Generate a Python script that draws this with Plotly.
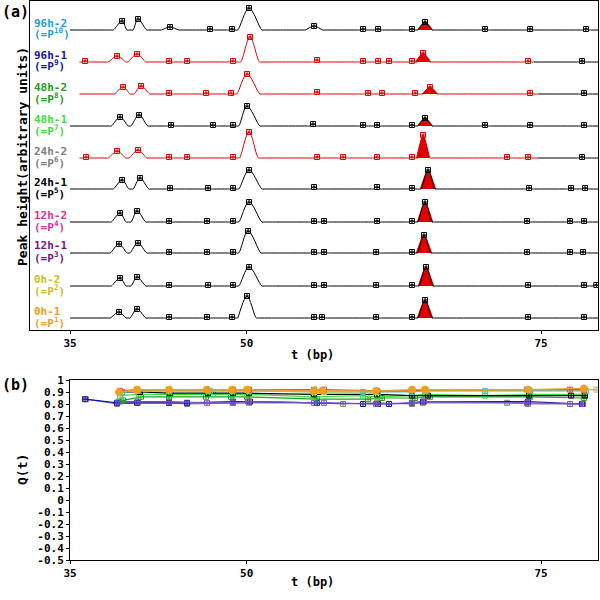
import plotly.graph_objects as go

# ---------------- data ----------------
labels = ["96h-2", "96h-1", "48h-2", "48h-1", "24h-2", "24h-1", "12h-2", "12h-1", "0h-2", "0h-1"]
p_index = ["10", "9", "8", "7", "6", "5", "4", "3", "2", "1"]

# peak positions (bp) and peak heights (arbitrary units) per trace, top to bottom
pos_96h2 = [39.42, 40.77, 43.49, 46.89, 48.76, 50.20, 55.72, 59.88, 61.16, 64.04, 65.15, 70.24, 74.07, 78.82]
h_96h2 = [9, 11, 3, 1, 1, 22, 4, 1, 1, 1, 8, 1, 1, 1]
pos_96h1 = [36.27, 38.99, 40.69, 43.41, 44.94, 48.84, 50.29, 55.98, 59.88, 61.16, 62.09, 64.04, 64.98, 73.90, 78.48]
h_96h1 = [1, 6, 8, 1, 1, 1, 25, 2, 1, 1, 1, 1, 9, 1, 1]
pos_48h2 = [39.50, 41.03, 43.41, 46.55, 48.67, 50.03, 55.98, 60.31, 61.50, 64.30, 65.57, 74.07, 78.65]
h_48h2 = [7, 8, 1, 1, 1, 20, 2, 1, 1, 1, 7, 1, 1]
pos_48h1 = [39.25, 40.86, 43.58, 47.14, 48.84, 50.03, 55.64, 59.88, 61.07, 64.04, 65.15, 70.24, 74.07, 78.65]
h_48h1 = [9, 11, 1, 1, 1, 20, 2, 1, 1, 1, 8, 1, 1, 1]
pos_24h2 = [36.36, 38.99, 40.77, 43.41, 44.94, 48.84, 50.20, 55.98, 58.18, 61.07, 64.04, 64.98, 72.11, 73.90, 78.48]
h_24h2 = [1, 7, 8, 1, 1, 1, 26, 1, 1, 1, 1, 23, 1, 1, 1]
pos_24h1 = [39.42, 40.94, 43.49, 46.72, 48.84, 50.20, 55.72, 61.07, 64.04, 65.40, 73.98, 77.55, 78.74]
h_24h1 = [9, 11, 1, 1, 1, 19, 2, 2, 1, 19, 1, 1, 1]
pos_12h2 = [39.25, 40.69, 43.41, 46.63, 48.84, 50.20, 55.72, 56.57, 61.07, 64.04, 65.15, 73.81, 77.46, 78.65]
h_12h2 = [9, 11, 1, 1, 1, 20, 1, 1, 1, 1, 20, 1, 1, 1]
pos_12h1 = [39.16, 40.77, 43.41, 46.63, 48.84, 50.12, 55.72, 56.57, 60.99, 64.04, 65.06, 73.81, 77.46, 78.57]
h_12h1 = [9, 10, 1, 1, 1, 22, 1, 1, 1, 1, 18, 1, 1, 1]
pos_0h2 = [39.25, 40.69, 43.41, 46.72, 48.84, 50.20, 55.72, 56.57, 60.99, 64.04, 65.23, 73.90, 78.65, 79.70]
h_0h2 = [8, 9, 1, 1, 1, 19, 1, 1, 1, 1, 19, 1, 1, 1]
pos_0h1 = [39.16, 40.69, 43.41, 46.63, 48.76, 50.03, 55.72, 56.40, 60.99, 64.04, 65.15, 73.90, 78.65]
h_0h1 = [6, 9, 1, 1, 1, 22, 1, 1, 1, 1, 18, 1, 1]

peak_positions = [pos_96h2, pos_96h1, pos_48h2, pos_48h1, pos_24h2, pos_24h1, pos_12h2, pos_12h1, pos_0h2, pos_0h1]
peak_heights = [h_96h2, h_96h1, h_48h2, h_48h1, h_24h2, h_24h1, h_12h2, h_12h1, h_0h2, h_0h1]

# Q(t) values at each peak position (panel b)
q_96h2 = [0.90, 0.91, 0.91, 0.91, 0.91, 0.91, 0.90, 0.90, 0.90, 0.90, 0.91, 0.91, 0.91, 0.91]
q_96h1 = [0.84, 0.81, 0.81, 0.81, 0.81, 0.82, 0.82, 0.81, 0.80, 0.80, 0.80, 0.81, 0.82, 0.82, 0.80]
q_48h2 = [0.83, 0.86, 0.86, 0.86, 0.86, 0.86, 0.84, 0.84, 0.85, 0.85, 0.86, 0.86, 0.85]
q_48h1 = [0.87, 0.88, 0.88, 0.88, 0.88, 0.88, 0.86, 0.87, 0.86, 0.87, 0.88, 0.87, 0.88, 0.88]
q_24h2 = [0.84, 0.80, 0.81, 0.81, 0.80, 0.81, 0.81, 0.81, 0.80, 0.81, 0.80, 0.81, 0.81, 0.80, 0.80]
q_24h1 = [0.90, 0.90, 0.89, 0.89, 0.89, 0.89, 0.88, 0.88, 0.87, 0.87, 0.87, 0.87, 0.87]
q_12h2 = [0.91, 0.92, 0.92, 0.92, 0.92, 0.92, 0.92, 0.92, 0.91, 0.91, 0.92, 0.92, 0.92, 0.92]
q_12h1 = [0.82, 0.82, 0.82, 0.81, 0.81, 0.82, 0.81, 0.81, 0.80, 0.81, 0.82, 0.81, 0.80, 0.80]
q_0h2 = [0.90, 0.91, 0.91, 0.91, 0.91, 0.91, 0.90, 0.90, 0.90, 0.91, 0.91, 0.92, 0.92, 0.92]
q_0h1 = [0.90, 0.92, 0.92, 0.92, 0.92, 0.92, 0.91, 0.91, 0.91, 0.92, 0.92, 0.92, 0.93]
q_values = [q_96h2, q_96h1, q_48h2, q_48h1, q_24h2, q_24h1, q_12h2, q_12h1, q_0h2, q_0h1]

x_ticks = [35, 50, 75]
q_ticks = [1, 0.9, 0.8, 0.7, 0.6, 0.5, 0.4, 0.3, 0.2, 0.1, 0, -0.1, -0.2, -0.3, -0.4, -0.5]
q_tick_text = ["1", "0.9", "0.8", "0.7", "0.6", "0.5", "0.4", "0.3", "0.2", "0.1", "0",
               "-0.1", "-0.2", "-0.3", "-0.4", "-0.5"]

# ---------------- styles ----------------
FONT = "DejaVu Sans Mono"
label_colors = ["#1E9FE6", "#1515A8", "#22A022", "#3CE03C", "#808080",
                "#000000", "#E0309A", "#7A1480", "#C8C020", "#F0A020"]
q_colors = ["#22C8E8", "#1515A8", "#22A022", "#3CE03C", "#808080",
            "#000000", "#E04848", "#7A50C0", "#C8C020", "#F0A020"]
trace_red_until = [None, 74.4, 74.8, None, 74.7, None, None, None, None, None]
sharp = [False, True, False, False, True, False, False, False, False, True]
offsets = [300, 268, 236, 204, 172, 141, 108, 77, 44, 12]
RED = "#E00000"

XA = [31.6, 79.84]
XB = [35.0, 79.84]
FOOT = 0.18  # flat foot added beside each peak base (drawing aid)

fig = go.Figure()


def half_width(p, h, is_sharp):
    if h <= 2:
        return 0.3
    if 49.0 < p < 51.5:
        return 0.8 if is_sharp else 1.1
    if 64.5 < p < 66.0:
        return 0.6
    return 0.75


for i in range(len(labels)):
    off = offsets[i]
    pos = peak_positions[i]
    hts = peak_heights[i]
    red_until = trace_red_until[i]
    start = 35.8 if red_until else 35.0
    pts = [(start, 0.0), (XA[1], 0.0)]
    for p, h in zip(pos, hts):
        w = half_width(p, h, sharp[i])
        pts += [(p - w - FOOT, 0.0), (p - w, 0.0), (p, float(h)), (p + w, 0.0), (p + w + FOOT, 0.0)]
    pts.sort(key=lambda a: a[0])
    xs = [a[0] for a in pts]
    ys = [a[1] + off for a in pts]

    if red_until:
        xr = [x for x in xs if x <= red_until] + [red_until]
        yr = [y for x, y in zip(xs, ys) if x <= red_until] + [off]
        xb = [red_until] + [x for x in xs if x > red_until]
        yb = [off] + [y for x, y in zip(xs, ys) if x > red_until]
        segs = [(xr, yr, RED), (xb, yb, "black")]
    else:
        segs = [(xs, ys, "black")]

    # filled peak near 65 bp
    for p, h in zip(pos, hts):
        if 64.5 < p < 66.0:
            w = 0.65 if h < 22 else 0.55
            fig.add_trace(go.Scatter(
                x=[p - w, p, p + w], y=[off, off + h, off],
                mode="lines", fill="toself", fillcolor=RED,
                line=dict(color=RED, width=1, shape="spline", smoothing=0.6),
                xaxis="x", yaxis="y", hoverinfo="skip", showlegend=False))

    for sx, sy, col in segs:
        fig.add_trace(go.Scatter(
            x=sx, y=sy, mode="lines",
            line=dict(color=col, width=1, shape="spline", smoothing=1.0),
            xaxis="x", yaxis="y", hoverinfo="skip", showlegend=False))

    mcols = [RED if (red_until and p <= red_until) else "black" for p in pos]
    fig.add_trace(go.Scatter(
        x=pos, y=[off + h for h in hts], mode="markers",
        marker=dict(symbol="square-cross-open", size=5, color=mcols,
                    line=dict(width=1, color=mcols)),
        xaxis="x", yaxis="y", hoverinfo="skip", showlegend=False))

    # labels
    fig.add_annotation(x=32 / 600, y=1 - (330 - off - 7) / 600, xref="paper", yref="paper",
                       text="<b>%s</b>" % labels[i], showarrow=False, xanchor="left",
                       yanchor="middle", font=dict(family=FONT, size=11, color=label_colors[i]))
    fig.add_annotation(x=32 / 600, y=1 - (330 - off + 4) / 600, xref="paper", yref="paper",
                       text="<b>(=P<sup>%s</sup>)</b>" % p_index[i], showarrow=False,
                       xanchor="left", yanchor="middle",
                       font=dict(family=FONT, size=11, color=label_colors[i]))

# panel (b)
draw_order = [4, 1, 7, 2, 3, 5, 0, 8, 6, 9]
for i in draw_order:
    pos = peak_positions[i]
    q = q_values[i]
    if i == 9:
        msym, msize = "circle-cross", 7
    else:
        msym, msize = "square-cross-open", 5
    fig.add_trace(go.Scatter(
        x=pos, y=q, mode="lines+markers",
        line=dict(color=q_colors[i], width=1.2),
        marker=dict(symbol=msym, size=msize, color=q_colors[i],
                    line=dict(width=1, color=q_colors[i])),
        xaxis="x2", yaxis="y2", hoverinfo="skip", showlegend=False, cliponaxis=True))

axis_common = dict(showgrid=False, zeroline=False, showline=True, linecolor="black",
                   linewidth=1, mirror=True, automargin=False)
tickfont = dict(family=FONT, size=11, color="black", weight="bold")

fig.update_layout(
    width=600, height=600,
    margin=dict(l=0, r=0, t=0, b=0, autoexpand=False),
    paper_bgcolor="white", plot_bgcolor="white",
    showlegend=False,
    xaxis=dict(domain=[30 / 600, 598 / 600], range=XA, anchor="y",
               tickvals=x_ticks, ticktext=[str(v) for v in x_ticks],
               ticks="outside", ticklen=3, tickcolor="black", tickfont=tickfont,
               **axis_common),
    yaxis=dict(domain=[1 - 330 / 600, 1 - 1 / 600], range=[0, 329], anchor="x",
               showticklabels=False, ticks="", **axis_common),
    xaxis2=dict(domain=[70 / 600, 598 / 600], range=XB, anchor="y2",
                tickvals=x_ticks, ticktext=[str(v) for v in x_ticks],
                ticks="outside", ticklen=3, tickcolor="black", tickfont=tickfont,
                **axis_common),
    yaxis2=dict(domain=[1 - 560 / 600, 1 - 380 / 600], range=[-0.5, 1], anchor="x2",
                tickvals=q_ticks, ticktext=q_tick_text,
                ticks="outside", ticklen=3, tickcolor="black", tickfont=tickfont,
                **axis_common),
)

title_font = dict(family=FONT, size=12, color="black")
ann_common = dict(xref="paper", yref="paper", showarrow=False, xanchor="center", yanchor="middle")
fig.add_annotation(x=313 / 600, y=1 - 355 / 600, text="<b>t (bp)</b>", font=title_font, **ann_common)
fig.add_annotation(x=313 / 600, y=1 - 582 / 600, text="<b>t (bp)</b>", font=title_font, **ann_common)
fig.add_annotation(x=22 / 600, y=1 - 157 / 600, text="<b>Peak height(arbitrary units)</b>",
                   textangle=-90, font=dict(family=FONT, size=13, color="black"), **ann_common)
fig.add_annotation(x=22 / 600, y=1 - 470 / 600, text="<b>Q(t)</b>", textangle=-90,
                   font=dict(family=FONT, size=13, color="black"), **ann_common)
fig.add_annotation(x=15 / 600, y=1 - 12 / 600, text="<b>(a)</b>",
                   font=dict(family=FONT, size=15, color="black"), **ann_common)
fig.add_annotation(x=15 / 600, y=1 - 385 / 600, text="<b>(b)</b>",
                   font=dict(family=FONT, size=15, color="black"), **ann_common)

fig.write_html("out.html", config={"displayModeBar": False},
               post_script="document.body.style.margin='0';document.body.style.overflow='hidden';")
